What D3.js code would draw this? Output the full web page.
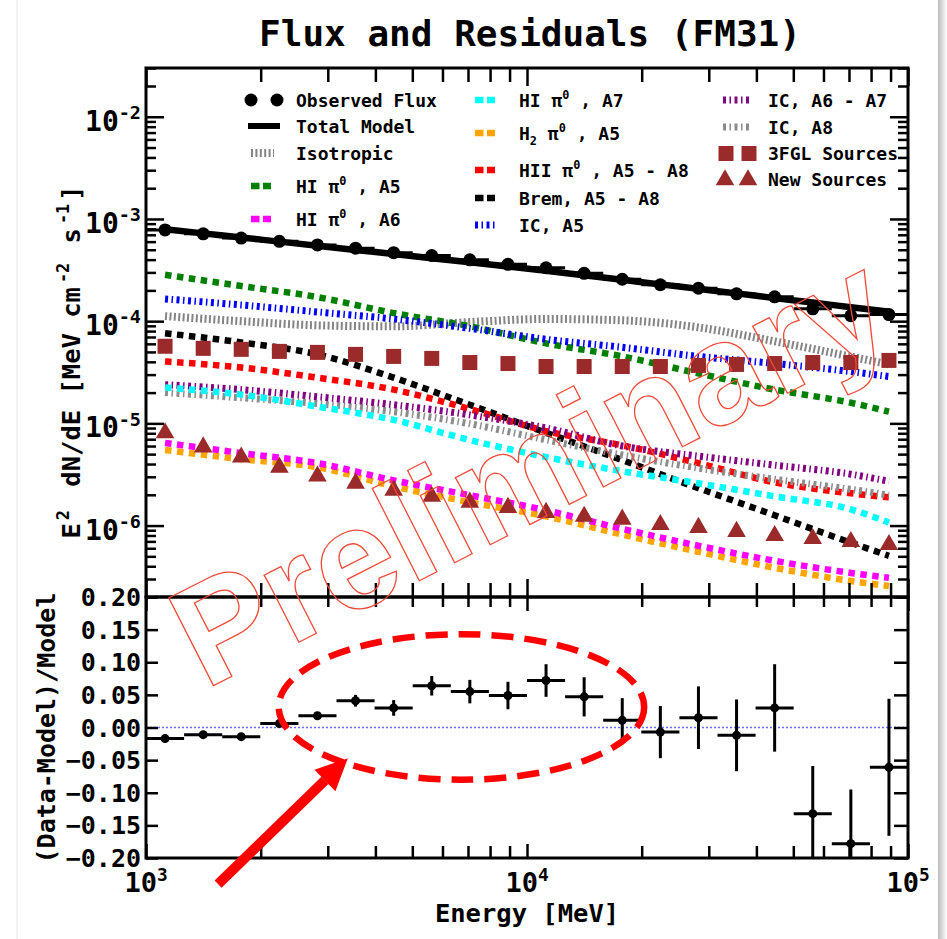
<!DOCTYPE html>
<html>
<head>
<meta charset="utf-8">
<script src="https://cdn.jsdelivr.net/npm/d3@7"></script>
<style>
  body { margin: 0; background: #fff; }
  text { font-family: "DejaVu Sans Mono", monospace; font-weight: bold; white-space: pre; }
</style>
</head>
<body>
<svg id="chart" width="947" height="939"></svg>
<script>
// ---- spectral bins (MeV) ----
const binEnergy = [1122, 1413, 1778, 2239, 2818, 3548, 4467, 5623, 7079, 8913,
                   11220, 14125, 17783, 22387, 28184, 35481, 44668, 56234, 70795, 89125];
const binLow  = [1000, 1259, 1585, 1995, 2512, 3162, 3981, 5012, 6310, 7943,
                 10000, 12589, 15849, 19953, 25119, 31623, 39811, 50119, 63096, 79433];
const binHigh = [1259, 1585, 1995, 2512, 3162, 3981, 5012, 6310, 7943, 10000,
                 12589, 15849, 19953, 25119, 31623, 39811, 50119, 63096, 79433, 100000];

// E^2 dN/dE [MeV cm^-2 s^-1]
const observedFlux = [7.81e-4, 7.15e-4, 6.50e-4, 6.04e-4, 5.57e-4, 5.18e-4, 4.68e-4, 4.39e-4, 3.98e-4, 3.60e-4,
                      3.33e-4, 2.94e-4, 2.57e-4, 2.27e-4, 2.10e-4, 1.85e-4, 1.73e-4, 1.32e-4, 1.13e-4, 1.16e-4];
const totalModel   = [7.94e-4, 7.23e-4, 6.59e-4, 6.00e-4, 5.47e-4, 4.98e-4, 4.54e-4, 4.13e-4, 3.77e-4, 3.43e-4,
                      3.11e-4, 2.81e-4, 2.54e-4, 2.29e-4, 2.07e-4, 1.87e-4, 1.68e-4, 1.52e-4, 1.37e-4, 1.24e-4];
const fgl3Sources  = [5.68e-5, 5.42e-5, 5.30e-5, 5.06e-5, 4.95e-5, 4.73e-5, 4.52e-5, 4.32e-5, 3.94e-5, 3.85e-5,
                      3.60e-5, 3.60e-5, 3.60e-5, 3.60e-5, 3.69e-5, 3.77e-5, 3.85e-5, 3.94e-5, 3.94e-5, 4.13e-5];
const newSources   = [8.05e-6, 5.86e-6, 4.67e-6, 3.72e-6, 3.04e-6, 2.59e-6, 2.21e-6, 1.93e-6, 1.69e-6, 1.50e-6,
                      1.34e-6, 1.23e-6, 1.15e-6, 1.02e-6, 9.55e-7, 8.73e-7, 7.96e-7, 7.44e-7, 6.95e-7, 6.50e-7];

// (Data-Model)/Model
const residual    = [-0.017, -0.011, -0.014, 0.006, 0.018, 0.041, 0.030, 0.064, 0.055, 0.049,
                      0.072, 0.047, 0.011, -0.007, 0.015, -0.012, 0.030, -0.132, -0.178, -0.061];
const residualErr = [0.003, 0.003, 0.003, 0.003, 0.004, 0.009, 0.012, 0.015, 0.018, 0.021,
                     0.025, 0.030, 0.034, 0.040, 0.048, 0.055, 0.067, 0.073, 0.083, 0.105];

// ---- model components, sampled along energy ----
const curveEnergy = [1122, 1778, 2818, 4467, 7079, 11220, 17783, 28184, 44668, 70795, 89125];
const isotropic = [1.12e-4, 1.00e-4, 9.1e-5, 8.9e-5, 9.8e-5, 1.05e-4, 1.02e-4, 8.7e-5, 6.35e-5, 4.5e-5, 3.77e-5];
const hiA5      = [2.84e-4, 2.21e-4, 1.72e-4, 1.20e-4, 8.9e-5, 6.07e-5, 4.52e-5, 3.08e-5, 2.14e-5, 1.59e-5, 1.30e-5];
const hiA6      = [6.43e-6, 5.13e-6, 4.08e-6, 2.77e-6, 1.98e-6, 1.41e-6, 9.3e-7, 6.35e-7, 4.52e-7, 3.44e-7, 3.08e-7];
const hiA7      = [2.24e-5, 1.91e-5, 1.46e-5, 1.08e-5, 6.87e-6, 4.68e-6, 3.40e-6, 2.59e-6, 1.93e-6, 1.44e-6, 1.07e-6];
const h2A5      = [5.48e-6, 4.47e-6, 3.72e-6, 2.42e-6, 1.69e-6, 1.23e-6, 8.15e-7, 5.54e-7, 3.86e-7, 2.87e-7, 2.56e-7];
const hiiA5A8   = [4.03e-5, 3.52e-5, 2.80e-5, 2.14e-5, 1.38e-5, 8.4e-6, 6.1e-6, 4.08e-6, 2.65e-6, 2.07e-6, 1.89e-6];
const bremA5A8  = [7.6e-5, 6.2e-5, 4.73e-5, 2.80e-5, 1.52e-5, 8.1e-6, 4.37e-6, 2.32e-6, 1.26e-6, 6.8e-7, 5.06e-7];
const icA5      = [1.65e-4, 1.44e-4, 1.23e-4, 1.05e-4, 8.5e-5, 6.65e-5, 5.55e-5, 4.52e-5, 3.85e-5, 3.21e-5, 2.87e-5];
const icA6A7    = [2.39e-5, 2.14e-5, 1.82e-5, 1.52e-5, 1.21e-5, 9.0e-6, 6.0e-6, 4.78e-6, 3.90e-6, 3.18e-6, 2.71e-6];
const icA8      = [2.00e-5, 1.78e-5, 1.56e-5, 1.30e-5, 9.9e-6, 6.9e-6, 4.9e-6, 3.65e-6, 2.84e-6, 2.26e-6, 1.98e-6];

// ---- tick values ----
const fluxMajorTicks = [1e-6, 1e-5, 1e-4, 1e-3, 1e-2];
const energyMajorTicks = [1e3, 1e4, 1e5];
const residualTicks = [-0.20, -0.15, -0.10, -0.05, 0.00, 0.05, 0.10, 0.15, 0.20];

// ---- layout ----
const W = 947, H = 939;
const X0 = 146, X1 = 908, TOP = 68, MID = 597, BOT = 858;
const svg = d3.select('#chart');

const x = d3.scaleLog().domain([1e3, 1e5]).range([X0, X1]);
const yF = d3.scaleLog().domain([2e-7, 3e-2]).range([MID, TOP]);
const yR = d3.scaleLinear().domain([-0.2, 0.2]).range([BOT, MID]);

// slide frame
const defs = svg.append('defs');
const grad = defs.append('linearGradient').attr('id', 'edge').attr('x1', 0).attr('x2', 1);
grad.append('stop').attr('offset', 0).attr('stop-color', '#bbb');
grad.append('stop').attr('offset', 1).attr('stop-color', '#fff');
svg.append('rect').attr('x', 938).attr('y', 0).attr('width', 9).attr('height', H).attr('fill', 'url(#edge)');
svg.append('line').attr('x1', 17).attr('x2', 17).attr('y1', 0).attr('y2', H)
  .attr('stroke', '#e6e6e6').attr('stroke-width', 1);

defs.append('clipPath').attr('id', 'clipTop').append('rect')
  .attr('x', X0).attr('y', TOP).attr('width', X1 - X0).attr('height', MID - TOP);
defs.append('clipPath').attr('id', 'clipRes').append('rect')
  .attr('x', X0).attr('y', MID).attr('width', X1 - X0).attr('height', BOT - MID);

// text with super/subscript parts
function richText(parent, px, py, parts, size, anchor) {
  const t = parent.append('text').attr('x', px).attr('y', py)
    .attr('font-size', size).attr('text-anchor', anchor || 'start').attr('fill', '#000');
  let cur = 0;
  parts.forEach(p => {
    const s = Array.isArray(p) ? p : [p, null];
    const shift = s[1] === 'sup' ? -0.42 * size : s[1] === 'sub' ? 0.28 * size : 0;
    const ts = t.append('tspan').attr('dy', shift - cur).text(s[0]);
    if (s[1]) ts.attr('font-size', size * 0.66);
    if (s[2]) ts.attr('dx', s[2]);
    cur = shift;
  });
  return t;
}

// ---- series styles ----
const S = {
  iso:   { color: '#858585', width: 8, dash: '2,2.4' },
  hiA5:  { color: '#008000', width: 6.5, dash: '6.5,5.5' },
  hiA6:  { color: '#ff00ff', width: 6.5, dash: '6.5,5.5' },
  hiA7:  { color: '#00ffff', width: 6.5, dash: '6.5,5.5' },
  h2A5:  { color: '#ffa500', width: 6.5, dash: '6.5,5.5' },
  hii:   { color: '#ff0000', width: 6.5, dash: '6.5,5.5' },
  brem:  { color: '#000000', width: 6.5, dash: '6.5,5.5' },
  icA5:  { color: '#0000ff', width: 7, dash: '3,3.5,1.5,3.5' },
  icA67: { color: '#800080', width: 7, dash: '3,3.5,1.5,3.5' },
  icA8:  { color: '#8c8c8c', width: 7, dash: '3,3.5,1.5,3.5' }
};
const brown = '#9b2a2a';

const components = [
  [isotropic, S.iso], [hiA5, S.hiA5], [icA5, S.icA5], [bremA5A8, S.brem], [hiiA5A8, S.hii],
  [icA8, S.icA8], [icA6A7, S.icA67], [hiA7, S.hiA7], [h2A5, S.h2A5], [hiA6, S.hiA6]
];

const gTop = svg.append('g').attr('clip-path', 'url(#clipTop)');
const line = d3.line().x(d => x(d[0])).y(d => yF(d[1])).curve(d3.curveMonotoneX);

components.forEach(([vals, st]) => {
  gTop.append('path')
    .attr('d', line(curveEnergy.map((e, i) => [e, vals[i]])))
    .attr('fill', 'none').attr('stroke', st.color).attr('stroke-width', st.width)
    .attr('stroke-dasharray', st.dash);
});

// total model
gTop.append('path')
  .attr('d', line(binEnergy.map((e, i) => [e, totalModel[i]])))
  .attr('fill', 'none').attr('stroke', '#000').attr('stroke-width', 6.5);

// 3FGL sources
gTop.selectAll('rect.fgl').data(binEnergy).join('rect').attr('class', 'fgl')
  .attr('x', d => x(d) - 7.5).attr('y', (d, i) => yF(fgl3Sources[i]) - 7.5)
  .attr('width', 15).attr('height', 15).attr('fill', brown);

// new sources
const tri = d3.symbol().type(d3.symbolTriangle).size(150);
gTop.selectAll('path.newsrc').data(binEnergy).join('path').attr('class', 'newsrc')
  .attr('transform', (d, i) => `translate(${x(d)},${yF(newSources[i])})`)
  .attr('d', tri()).attr('fill', brown);

// observed flux with energy-bin bars
gTop.selectAll('line.obsx').data(binEnergy).join('line').attr('class', 'obsx')
  .attr('x1', (d, i) => x(binLow[i])).attr('x2', (d, i) => x(binHigh[i]))
  .attr('y1', (d, i) => yF(observedFlux[i])).attr('y2', (d, i) => yF(observedFlux[i]))
  .attr('stroke', '#000').attr('stroke-width', 3);
gTop.selectAll('circle.obs').data(binEnergy).join('circle').attr('class', 'obs')
  .attr('cx', d => x(d)).attr('cy', (d, i) => yF(observedFlux[i])).attr('r', 6.5).attr('fill', '#000');

// ---- residual panel ----
const gRes = svg.append('g').attr('clip-path', 'url(#clipRes)');
gRes.append('line').attr('x1', X0).attr('x2', X1).attr('y1', yR(0)).attr('y2', yR(0))
  .attr('stroke', '#6a6aff').attr('stroke-width', 1.5).attr('stroke-dasharray', '2,2');
gRes.selectAll('line.rx').data(binEnergy).join('line').attr('class', 'rx')
  .attr('x1', (d, i) => x(binLow[i])).attr('x2', (d, i) => x(binHigh[i]))
  .attr('y1', (d, i) => yR(residual[i])).attr('y2', (d, i) => yR(residual[i]))
  .attr('stroke', '#000').attr('stroke-width', 3);
gRes.selectAll('line.ry').data(binEnergy).join('line').attr('class', 'ry')
  .attr('x1', d => x(d)).attr('x2', d => x(d))
  .attr('y1', (d, i) => yR(residual[i] - residualErr[i])).attr('y2', (d, i) => yR(residual[i] + residualErr[i]))
  .attr('stroke', '#000').attr('stroke-width', 3);
gRes.selectAll('circle.r').data(binEnergy).join('circle').attr('class', 'r')
  .attr('cx', d => x(d)).attr('cy', (d, i) => yR(residual[i])).attr('r', 4.5).attr('fill', '#000');

// ---- axes ----
const minorF = [];
for (let p = -7; p <= -2; p++) for (let k = 2; k <= 9; k++) {
  const v = k * Math.pow(10, p);
  if (v >= 2e-7 && v <= 3e-2) minorF.push(v);
}
const minorE = [];
for (let p = 3; p <= 4; p++) for (let k = 2; k <= 9; k++) minorE.push(k * Math.pow(10, p));

function axisG(axis, tx, ty) {
  const g = svg.append('g').attr('transform', `translate(${tx},${ty})`).call(axis);
  g.select('.domain').remove();
  g.selectAll('.tick line').attr('stroke', '#000').attr('stroke-width', 2.5);
  g.selectAll('.tick text').remove();
  return g;
}
const noLab = () => '';
// flux panel: left / right
axisG(d3.axisLeft(yF).tickValues(fluxMajorTicks).tickSize(-18).tickFormat(noLab), X0, 0);
axisG(d3.axisLeft(yF).tickValues(minorF).tickSize(-10).tickFormat(noLab), X0, 0);
axisG(d3.axisRight(yF).tickValues(fluxMajorTicks).tickSize(-18).tickFormat(noLab), X1, 0);
axisG(d3.axisRight(yF).tickValues(minorF).tickSize(-10).tickFormat(noLab), X1, 0);
// flux panel: top / bottom
axisG(d3.axisTop(x).tickValues(energyMajorTicks).tickSize(-18).tickFormat(noLab), 0, TOP);
axisG(d3.axisTop(x).tickValues(minorE).tickSize(-14).tickFormat(noLab), 0, TOP);
axisG(d3.axisBottom(x).tickValues(energyMajorTicks).tickSize(-18).tickFormat(noLab), 0, MID);
axisG(d3.axisBottom(x).tickValues(minorE).tickSize(-14).tickFormat(noLab), 0, MID);
// residual panel
axisG(d3.axisLeft(yR).tickValues(residualTicks).tickSize(-12).tickFormat(noLab), X0, 0);
axisG(d3.axisRight(yR).tickValues(residualTicks).tickSize(-14).tickFormat(noLab), X1, 0);
axisG(d3.axisTop(x).tickValues(energyMajorTicks).tickSize(-14).tickFormat(noLab), 0, MID);
axisG(d3.axisTop(x).tickValues(minorE).tickSize(-10).tickFormat(noLab), 0, MID);
axisG(d3.axisBottom(x).tickValues(energyMajorTicks).tickSize(-14).tickFormat(noLab), 0, BOT);
axisG(d3.axisBottom(x).tickValues(minorE).tickSize(-12).tickFormat(noLab), 0, BOT);

// frames
[[TOP, MID], [MID, BOT]].forEach(([a, b]) => {
  svg.append('rect').attr('x', X0).attr('y', a).attr('width', X1 - X0).attr('height', b - a)
    .attr('fill', 'none').attr('stroke', '#000').attr('stroke-width', 3);
});

// tick labels
fluxMajorTicks.forEach(v => {
  richText(svg, 141, yF(v) + 14, ['10', [String(Math.round(Math.log10(v))), 'sup']], 28, 'end');
});
residualTicks.forEach(v => {
  const s = (v < 0 ? '\u2212' : '') + Math.abs(v).toFixed(2);
  svg.append('text').attr('x', 141).attr('y', yR(v) + 9).attr('font-size', 25)
    .attr('text-anchor', 'end').text(s);
});
energyMajorTicks.forEach(v => {
  richText(svg, x(v), 892, ['10', [String(Math.round(Math.log10(v))), 'sup']], 27, 'middle');
});

// axis titles
svg.append('text').attr('x', (X0 + X1) / 2).attr('y', 922).attr('font-size', 25.5)
  .attr('text-anchor', 'middle').text('Energy [MeV]');
const gy1 = svg.append('g').attr('transform', 'translate(80,362) rotate(-90)');
richText(gy1, 0, 0, ['E', ['2', 'sup', 3], [' dN/dE [MeV cm', null, 8], ['-2', 'sup', 4], [' s', null, 4], ['-1', 'sup', 4], [']', null, 3]], 25.5, 'middle');
const gy2 = svg.append('g').attr('transform', 'translate(55,728) rotate(-90)');
gy2.append('text').attr('font-size', 25).attr('text-anchor', 'middle').text('(Data-Model)/Model');

// title
svg.append('text').attr('x', 530).attr('y', 46).attr('font-size', 36)
  .attr('text-anchor', 'middle').text('Flux and Residuals (FM31)');

// ---- legend ----
const lg = svg.append('g');
function legLine(x1, x2, yy, st, dash) {
  lg.append('line').attr('x1', x1).attr('x2', x2).attr('y1', yy).attr('y2', yy)
    .attr('stroke', st.color).attr('stroke-width', st.width).attr('stroke-dasharray', dash || st.dash);
}
const sq = '8.5,3.5';
// column 1
[251, 277].forEach(cx => lg.append('circle').attr('cx', cx).attr('cy', 100).attr('r', 6.5).attr('fill', '#000'));
richText(lg, 296, 107, ['Observed Flux'], 18);
lg.append('line').attr('x1', 248).attr('x2', 280).attr('y1', 126).attr('y2', 126).attr('stroke', '#000').attr('stroke-width', 6);
richText(lg, 296, 133, ['Total Model'], 18);
legLine(251, 274, 153, S.iso);
richText(lg, 296, 160, ['Isotropic'], 18);
legLine(251, 271, 186, S.hiA5, sq);
richText(lg, 296, 193, ['HI \u03c0', ['0', 'sup'], ' , A5'], 18);
legLine(251, 271, 219, S.hiA6, sq);
richText(lg, 296, 226, ['HI \u03c0', ['0', 'sup'], ' , A6'], 18);
// column 2
legLine(475, 495, 100, S.hiA7, sq);
richText(lg, 519, 107, ['HI \u03c0', ['0', 'sup'], ' , A7'], 18);
legLine(475, 495, 133, S.h2A5, sq);
richText(lg, 519, 140, ['H', ['2', 'sub'], ' \u03c0', ['0', 'sup'], ' , A5'], 18);
legLine(475, 495, 170, S.hii, sq);
richText(lg, 519, 177, ['HII \u03c0', ['0', 'sup'], ' , A5 - A8'], 18);
legLine(475, 495, 198, S.brem, sq);
richText(lg, 519, 205, ['Brem, A5 - A8'], 18);
legLine(475, 498, 225, S.icA5);
richText(lg, 519, 232, ['IC, A5'], 18);
// column 3
legLine(723, 750, 100, S.icA67);
richText(lg, 768, 107, ['IC, A6 - A7'], 18);
legLine(723, 750, 127, S.icA8);
richText(lg, 768, 134, ['IC, A8'], 18);
[726, 749].forEach(cx => lg.append('rect').attr('x', cx - 7.5).attr('y', 146).attr('width', 15).attr('height', 15).attr('fill', brown));
richText(lg, 768, 160, ['3FGL Sources'], 18);
[725, 748].forEach(cx => lg.append('path').attr('transform', `translate(${cx},180)`).attr('d', tri()).attr('fill', brown));
richText(lg, 768, 186, ['New Sources'], 18);

// ---- annotations ----
svg.append('text').attr('transform', 'translate(205,690) rotate(-27)')
  .attr('font-size', 143).attr('fill', 'none').attr('stroke', '#f04a3a').attr('stroke-width', 1.3)
  .style('font-family', '"Liberation Sans", Arial, sans-serif').style('font-weight', 'bold')
  .text('Preliminary');

const ellE = [2230, 20300], ellR = [-0.08, 0.143];
const ecx = (x(ellE[0]) + x(ellE[1])) / 2, ecy = (yR(ellR[0]) + yR(ellR[1])) / 2;
svg.append('ellipse').attr('cx', ecx).attr('cy', ecy)
  .attr('rx', (x(ellE[1]) - x(ellE[0])) / 2).attr('ry', (yR(ellR[0]) - yR(ellR[1])) / 2)
  .attr('fill', 'none').attr('stroke', '#ff0000').attr('stroke-width', 6.5).attr('stroke-dasharray', '22,11');

const tail = [x(1546), yR(-0.24)], tip = [x(3388), yR(-0.047)];
const ang = Math.atan2(tip[1] - tail[1], tip[0] - tail[0]);
const headLen = 32, headW = 15;
const base = [tip[0] - headLen * Math.cos(ang), tip[1] - headLen * Math.sin(ang)];
svg.append('line').attr('x1', tail[0]).attr('y1', tail[1]).attr('x2', base[0]).attr('y2', base[1])
  .attr('stroke', '#ff0000').attr('stroke-width', 10);
svg.append('polygon').attr('fill', '#ff0000').attr('points', [
  tip,
  [base[0] + headW * Math.sin(ang), base[1] - headW * Math.cos(ang)],
  [base[0] - headW * Math.sin(ang), base[1] + headW * Math.cos(ang)]
].map(p => p.join(',')).join(' '));
</script>
</body>
</html>
